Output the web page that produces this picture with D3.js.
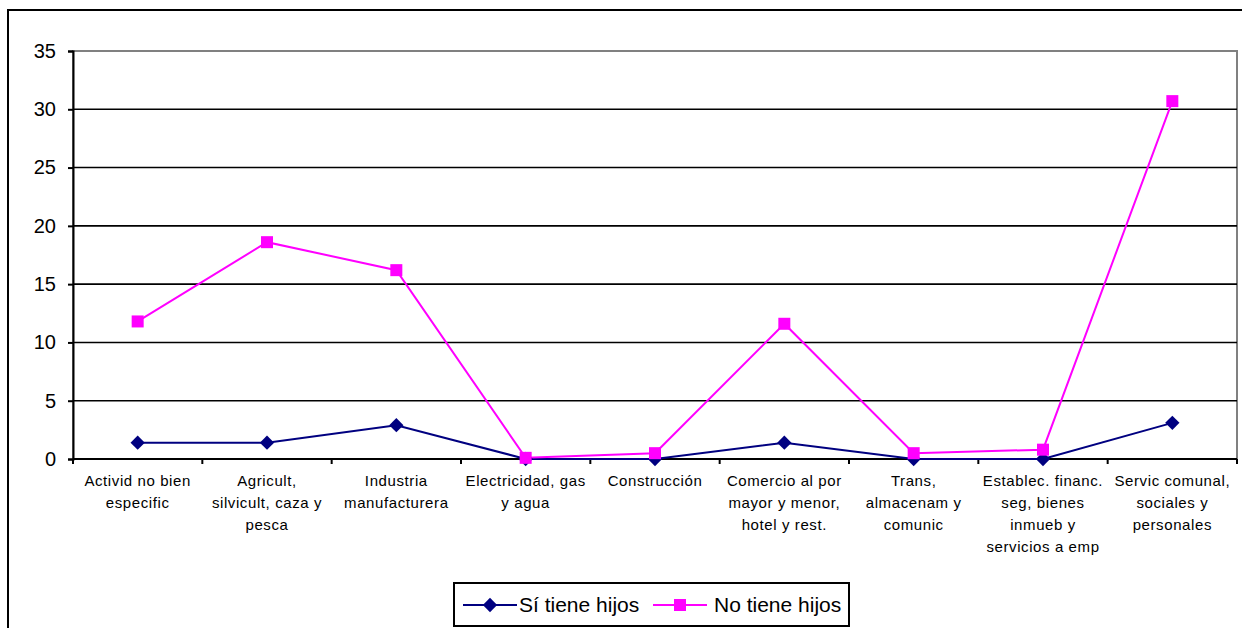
<!DOCTYPE html>
<html>
<head>
<meta charset="utf-8">
<script src="https://cdn.jsdelivr.net/npm/d3@7"></script>
<style>
  html, body { margin: 0; padding: 0; background: #fff; }
  svg { display: block; font-family: Arial, "Liberation Sans", sans-serif; }
</style>
</head>
<body>
<svg id="chart" width="1242" height="628"></svg>
<script>
// categories (one array of lines per label)
const categories = [
  ["Activid no bien", "especific"],
  ["Agricult,", "silvicult, caza y", "pesca"],
  ["Industria", "manufacturera"],
  ["Electricidad, gas", "y agua"],
  ["Construcción"],
  ["Comercio al por", "mayor y menor,", "hotel y rest."],
  ["Trans,", "almacenam y", "comunic"],
  ["Establec. financ.", "seg, bienes", "inmueb y", "servicios  a emp"],
  ["Servic comunal,", "sociales y", "personales"]
];
const siTiene = [1.4, 1.4, 2.9, 0, 0, 1.4, 0, 0, 3.1];
const noTiene = [11.8, 18.6, 16.2, 0.1, 0.5, 11.6, 0.5, 0.8, 30.7];
const yTicks = [0, 5, 10, 15, 20, 25, 30, 35];
const seriesNames = ["Sí tiene hijos", "No tiene hijos"];

const svg = d3.select("#chart");
const plot = { left: 73, top: 51, right: 1237, bottom: 459 };

// outer chart border (right/bottom edges fall outside the picture)
svg.append("rect")
  .attr("x", 8).attr("y", 10)
  .attr("width", 1300).attr("height", 700)
  .attr("fill", "none").attr("stroke", "#000").attr("stroke-width", 2);

const idx = categories.map((d, i) => i);
const x = d3.scaleBand().domain(idx).range([plot.left, plot.right]).padding(0);
const cx = i => x(i) + x.bandwidth() / 2;
const y = d3.scaleLinear().domain([0, 35]).range([plot.bottom, plot.top]);

// plot area border
svg.append("rect")
  .attr("x", plot.left).attr("y", plot.top)
  .attr("width", plot.right - plot.left).attr("height", plot.bottom - plot.top)
  .attr("fill", "none").attr("stroke", "#808080").attr("stroke-width", 2);

// gridlines
svg.append("g")
  .selectAll("line")
  .data(yTicks.filter(t => t > 0 && t < 35))
  .join("line")
  .attr("x1", plot.left).attr("x2", plot.right)
  .attr("y1", d => y(d)).attr("y2", d => y(d))
  .attr("stroke", "#000").attr("stroke-width", 1.6);

// y axis
const yAxis = svg.append("g")
  .attr("transform", `translate(${plot.left},0)`)
  .call(d3.axisLeft(y).tickValues(yTicks).tickSize(5).tickPadding(12));
yAxis.select(".domain").attr("stroke", "#000").attr("stroke-width", 2);
yAxis.selectAll(".tick line").attr("stroke", "#000").attr("stroke-width", 2);
yAxis.selectAll(".tick text")
  .attr("font-size", 20).attr("fill", "#000")
  .attr("font-family", "Arial, 'Liberation Sans', sans-serif");

// x axis
svg.append("line")
  .attr("x1", plot.left).attr("x2", plot.right)
  .attr("y1", plot.bottom).attr("y2", plot.bottom)
  .attr("stroke", "#000").attr("stroke-width", 2);
svg.append("g")
  .selectAll("line")
  .data(idx.concat([idx.length]))
  .join("line")
  .attr("x1", d => d < idx.length ? x(d) : plot.right)
  .attr("x2", d => d < idx.length ? x(d) : plot.right)
  .attr("y1", plot.bottom).attr("y2", plot.bottom + 5)
  .attr("stroke", "#000").attr("stroke-width", 2);

const labels = svg.append("g")
  .selectAll("text")
  .data(categories)
  .join("text")
  .attr("x", (d, i) => cx(i))
  .attr("y", 486)
  .attr("text-anchor", "middle")
  .attr("font-size", 15)
  .attr("letter-spacing", 0.6)
  .attr("fill", "#000");
labels.selectAll("tspan")
  .data(d => d)
  .join("tspan")
  .attr("x", function () { return this.parentNode.getAttribute("x"); })
  .attr("dy", (d, j) => j === 0 ? 0 : 22)
  .text(d => d);

// series
const line = d3.line().x((d, i) => cx(i)).y(d => y(d));
const navy = "#000080", magenta = "#FF00FF";

svg.append("path")
  .datum(siTiene)
  .attr("d", line)
  .attr("fill", "none").attr("stroke", navy).attr("stroke-width", 2);
svg.append("path")
  .datum(noTiene)
  .attr("d", line)
  .attr("fill", "none").attr("stroke", magenta).attr("stroke-width", 2);

const diamond = d3.symbol().type(d3.symbolDiamond2).size(130);
svg.append("g")
  .selectAll("path")
  .data(siTiene)
  .join("path")
  .attr("transform", (d, i) => `translate(${cx(i)},${y(d)})`)
  .attr("d", diamond)
  .attr("fill", navy);

svg.append("g")
  .selectAll("rect")
  .data(noTiene)
  .join("rect")
  .attr("x", (d, i) => cx(i) - 6).attr("y", d => y(d) - 6)
  .attr("width", 12).attr("height", 12)
  .attr("fill", magenta);

// legend
const lg = svg.append("g");
lg.append("rect")
  .attr("x", 454).attr("y", 583)
  .attr("width", 395).attr("height", 43)
  .attr("fill", "#fff").attr("stroke", "#000").attr("stroke-width", 2);

const legendItems = [
  { name: seriesNames[0], color: navy, x0: 463, tx: 519, shape: "diamond" },
  { name: seriesNames[1], color: magenta, x0: 653, tx: 714, shape: "square" }
];
const ly = 605;
legendItems.forEach(it => {
  lg.append("line")
    .attr("x1", it.x0).attr("x2", it.x0 + 54)
    .attr("y1", ly).attr("y2", ly)
    .attr("stroke", it.color).attr("stroke-width", 2);
  if (it.shape === "diamond") {
    lg.append("path")
      .attr("transform", `translate(${it.x0 + 27},${ly})`)
      .attr("d", diamond)
      .attr("fill", it.color);
  } else {
    lg.append("rect")
      .attr("x", it.x0 + 27 - 6).attr("y", ly - 6)
      .attr("width", 12).attr("height", 12)
      .attr("fill", it.color);
  }
  lg.append("text")
    .attr("x", it.tx).attr("y", ly + 7)
    .attr("font-size", 21)
    .attr("fill", "#000")
    .text(it.name);
});
</script>
</body>
</html>
